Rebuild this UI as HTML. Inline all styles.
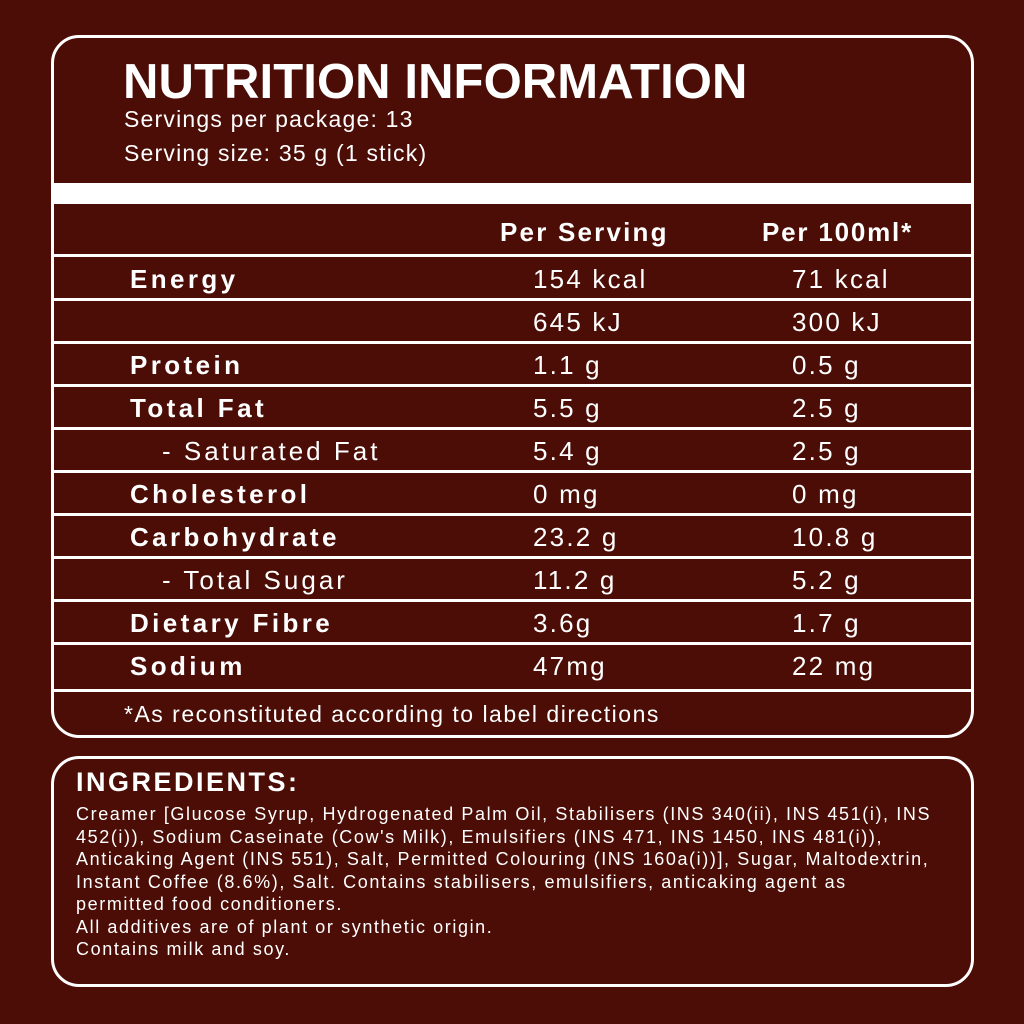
<!DOCTYPE html>
<html><head><style>
body{margin:0;width:1024px;height:1024px;background:#4b0d06;font-family:"Liberation Sans",sans-serif;color:#fff;position:relative;overflow:hidden}
.box{position:absolute;border:3px solid #fff;border-radius:28px;box-sizing:border-box}
.t{position:absolute;white-space:nowrap}
.l{position:absolute;left:52px;width:920px;height:3px;background:#fff}
.tb .t{letter-spacing:2.2px}
.tb .b{font-weight:bold;letter-spacing:3.4px}
</style></head><body>
<div class="box" style="left:51px;top:35px;width:923px;height:703px"></div>
<div class="box" style="left:51px;top:756px;width:923px;height:231px"></div>
<div class="t" style="left:123px;top:54px;font-size:49px;font-weight:bold;letter-spacing:0.1px">NUTRITION INFORMATION</div>
<div class="t" style="left:124px;top:106px;font-size:23px;letter-spacing:1.2px">Servings per package: 13</div>
<div class="t" style="left:124px;top:140px;font-size:23px;letter-spacing:1.2px">Serving size: 35 g (1 stick)</div>
<div style="position:absolute;left:52px;top:183px;width:920px;height:21px;background:#fff"></div>
<div class="t" style="left:500px;top:217px;font-size:26px;font-weight:bold;letter-spacing:2.2px">Per Serving</div>
<div class="t" style="left:762px;top:217px;font-size:26px;font-weight:bold;letter-spacing:1.8px">Per 100ml*</div>
<div class="l" style="top:254px"></div>
<div class="l" style="top:298px"></div>
<div class="l" style="top:341px"></div>
<div class="l" style="top:384px"></div>
<div class="l" style="top:427px"></div>
<div class="l" style="top:470px"></div>
<div class="l" style="top:513px"></div>
<div class="l" style="top:556px"></div>
<div class="l" style="top:599px"></div>
<div class="l" style="top:642px"></div>
<div class="l" style="top:689px"></div>
<div class="tb" style="position:absolute;left:0;top:0;font-size:26px">
<div class="t b" style="left:130px;top:264px">Energy</div>
<div class="t" style="left:533px;top:264px">154 kcal</div><div class="t" style="left:792px;top:264px">71 kcal</div>
<div class="t" style="left:533px;top:307px">645 kJ</div><div class="t" style="left:792px;top:307px">300 kJ</div>
<div class="t b" style="left:130px;top:350px">Protein</div>
<div class="t" style="left:533px;top:350px">1.1 g</div><div class="t" style="left:792px;top:350px">0.5 g</div>
<div class="t b" style="left:130px;top:393px">Total Fat</div>
<div class="t" style="left:533px;top:393px">5.5 g</div><div class="t" style="left:792px;top:393px">2.5 g</div>
<div class="t" style="left:162px;top:436px;letter-spacing:3px">- Saturated Fat</div>
<div class="t" style="left:533px;top:436px">5.4 g</div><div class="t" style="left:792px;top:436px">2.5 g</div>
<div class="t b" style="left:130px;top:479px">Cholesterol</div>
<div class="t" style="left:533px;top:479px">0 mg</div><div class="t" style="left:792px;top:479px">0 mg</div>
<div class="t b" style="left:130px;top:522px">Carbohydrate</div>
<div class="t" style="left:533px;top:522px">23.2 g</div><div class="t" style="left:792px;top:522px">10.8 g</div>
<div class="t" style="left:162px;top:565px;letter-spacing:3px">- Total Sugar</div>
<div class="t" style="left:533px;top:565px">11.2 g</div><div class="t" style="left:792px;top:565px">5.2 g</div>
<div class="t b" style="left:130px;top:608px">Dietary Fibre</div>
<div class="t" style="left:533px;top:608px">3.6g</div><div class="t" style="left:792px;top:608px">1.7 g</div>
<div class="t b" style="left:130px;top:651px">Sodium</div>
<div class="t" style="left:533px;top:651px">47mg</div><div class="t" style="left:792px;top:651px">22 mg</div>
</div>
<div class="t" style="left:124px;top:701px;font-size:23px;letter-spacing:1.5px">*As reconstituted according to label directions</div>
<div class="t" style="left:76px;top:767px;font-size:27px;font-weight:bold;letter-spacing:2.5px">INGREDIENTS:</div>
<div class="t" style="left:76px;top:803px;font-size:18px;line-height:22.5px;letter-spacing:1.6px">Creamer [Glucose Syrup, Hydrogenated Palm Oil, Stabilisers (INS 340(ii), INS 451(i), INS<br>452(i)), Sodium Caseinate (Cow's Milk), Emulsifiers (INS 471, INS 1450, INS 481(i)),<br>Anticaking Agent (INS 551), Salt, Permitted Colouring (INS 160a(i))], Sugar, Maltodextrin,<br>Instant Coffee (8.6%), Salt. Contains stabilisers, emulsifiers, anticaking agent as<br>permitted food conditioners.<br>All additives are of plant or synthetic origin.<br>Contains milk and soy.</div>
</body></html>
